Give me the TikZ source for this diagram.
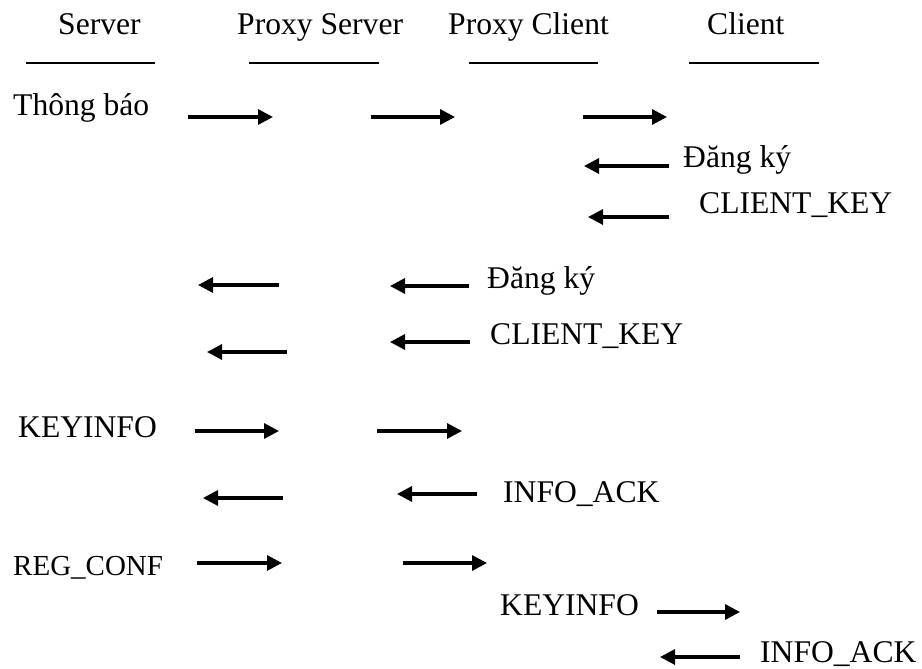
\documentclass[tikz,border=0pt]{standalone}
\usepackage{fontspec}
\setmainfont{Liberation Serif}
\usetikzlibrary{arrows.meta, positioning}
\tikzstyle{msgtext} = [anchor=base west, 
inner sep=0pt, 
font=\fontsize{31.6}{38}\selectfont]
\tikzstyle{smalltext} = [msgtext, 
font=\fontsize{29}{35}\selectfont]
\tikzstyle{underline} = [line width=1.2pt, draw=black]
\tikzstyle{msg} = [line width=3.2pt,-{Triangle[length=15pt,width=15pt]},draw=black]

\begin{document}
\begin{tikzpicture}[x=1pt, y=-1pt]
        \useasboundingbox (0,0) rectangle (922,669);

        % Headers
        \node (server) [msgtext] at (58,35) {Server};
        \node (pserver) [msgtext] at (237,35) {Proxy Server};
        \node (pclient) [msgtext] at (448,35) {Proxy Client};
        \node (client) [msgtext] at (707,35) {Client};

        \coordinate (ul1a) at (26,63);  \coordinate (ul1b) at (155,63);
        \coordinate (ul2a) at (249,63); \coordinate (ul2b) at (379,63);
        \coordinate (ul3a) at (469,63); \coordinate (ul3b) at (598,63);
        \coordinate (ul4a) at (689,63); \coordinate (ul4b) at (819,63);
        \draw [underline] (ul1a) -- (ul1b);
        \draw [underline] (ul2a) -- (ul2b);
        \draw [underline] (ul3a) -- (ul3b);
        \draw [underline] (ul4a) -- (ul4b);

        % Labels
        \node (notify) [msgtext] at (13,115) {Thông báo};
        \node (reg1) [msgtext] at (683,167) {Đăng ký};
        \node (key1) [msgtext] at (699,213) {CLIENT\_KEY};
        \node (reg2) [msgtext] at (487,288) {Đăng ký};
        \node (key2) [msgtext] at (490,344) {CLIENT\_KEY};
        \node (info1) [msgtext] at (18,437) {KEYINFO};
        \node (ack1) [msgtext] at (503,502) {INFO\_ACK};
        \node (conf) [smalltext] at (13,575) {REG\_CONF};
        \node (info2) [msgtext] at (500,615) {KEYINFO};
        \node (ack2) [msgtext] at (760,662) {INFO\_ACK};

        % Arrow ends
        \coordinate (n1a) at (188,117); \coordinate (n1b) at (273,117);
        \coordinate (n2a) at (371,117); \coordinate (n2b) at (455,117);
        \coordinate (n3a) at (583,117); \coordinate (n3b) at (667,117);
        \coordinate (r1a) at (669,166); \coordinate (r1b) at (584,166);
        \coordinate (k1a) at (669,217); \coordinate (k1b) at (588,217);
        \coordinate (r2a) at (279,285); \coordinate (r2b) at (198,285);
        \coordinate (r3a) at (469,286); \coordinate (r3b) at (390,286);
        \coordinate (k2a) at (287,352); \coordinate (k2b) at (207,352);
        \coordinate (k3a) at (470,342); \coordinate (k3b) at (390,342);
        \coordinate (i1a) at (195,431); \coordinate (i1b) at (279,431);
        \coordinate (i2a) at (377,431); \coordinate (i2b) at (462,431);
        \coordinate (a1a) at (283,498); \coordinate (a1b) at (203,498);
        \coordinate (a2a) at (477,494); \coordinate (a2b) at (397,494);
        \coordinate (c1a) at (197,563); \coordinate (c1b) at (282,563);
        \coordinate (c2a) at (403,563); \coordinate (c2b) at (487,563);
        \coordinate (i3a) at (657,612); \coordinate (i3b) at (740,612);
        \coordinate (a3a) at (740,657); \coordinate (a3b) at (660,657);

        % Connections
        \draw [msg] (n1a) -- (n1b);
        \draw [msg] (n2a) -- (n2b);
        \draw [msg] (n3a) -- (n3b);
        \draw [msg] (r1a) -- (r1b);
        \draw [msg] (k1a) -- (k1b);
        \draw [msg] (r2a) -- (r2b);
        \draw [msg] (r3a) -- (r3b);
        \draw [msg] (k2a) -- (k2b);
        \draw [msg] (k3a) -- (k3b);
        \draw [msg] (i1a) -- (i1b);
        \draw [msg] (i2a) -- (i2b);
        \draw [msg] (a1a) -- (a1b);
        \draw [msg] (a2a) -- (a2b);
        \draw [msg] (c1a) -- (c1b);
        \draw [msg] (c2a) -- (c2b);
        \draw [msg] (i3a) -- (i3b);
        \draw [msg] (a3a) -- (a3b);

    \end{tikzpicture}
\end{document}
